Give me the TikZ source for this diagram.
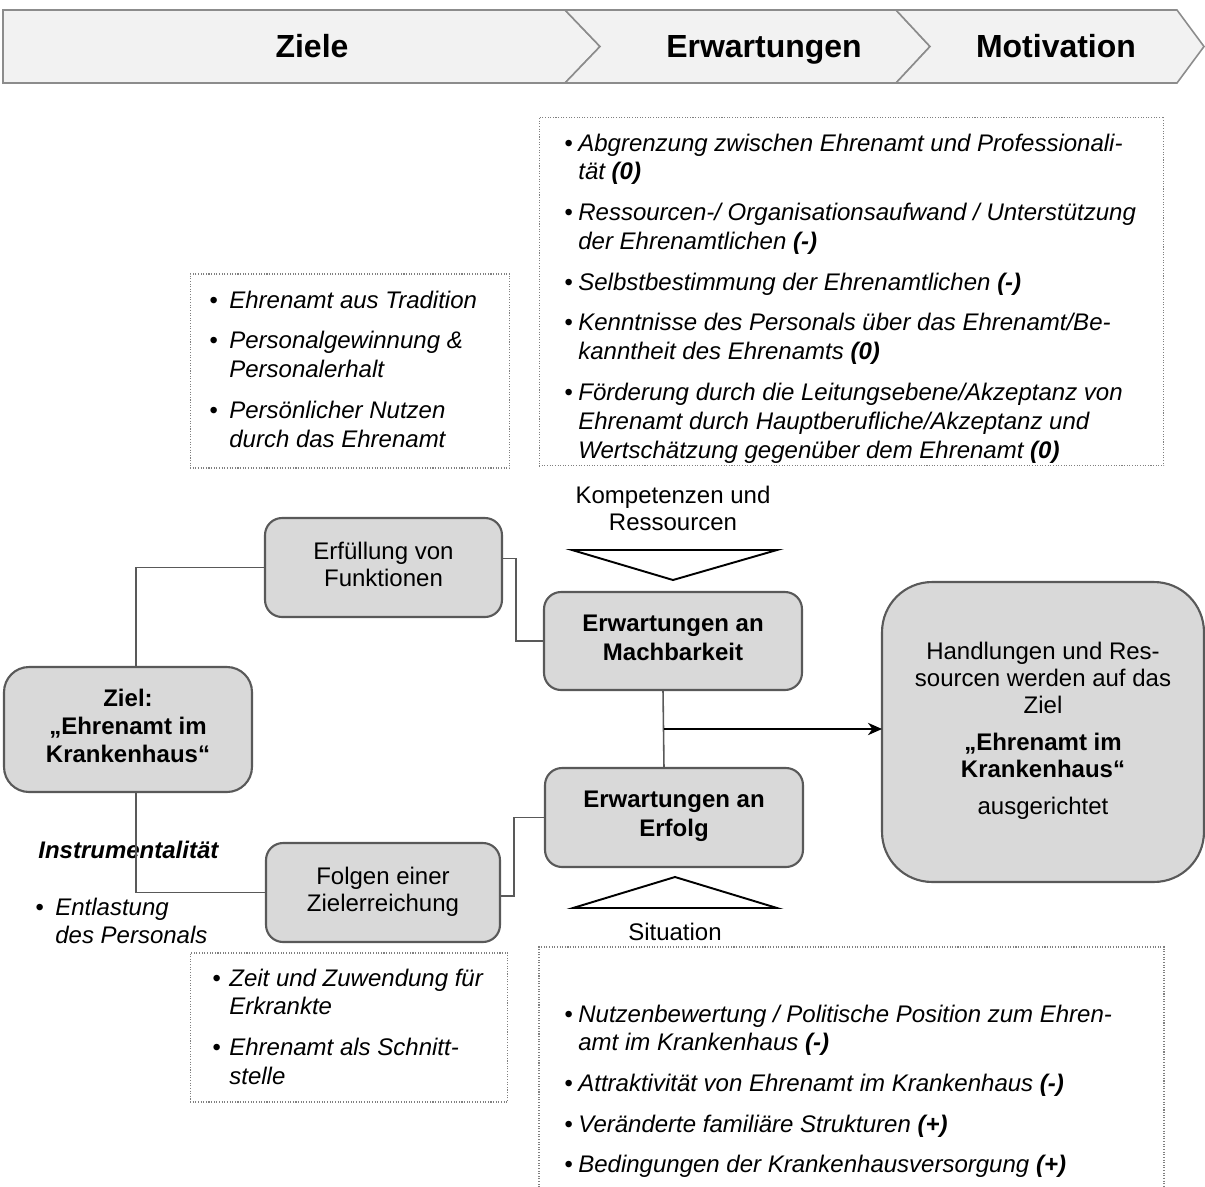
\documentclass[tikz,border=0pt]{standalone}
\usepackage{fontspec}
\setmainfont{Liberation Sans}
\usetikzlibrary{arrows.meta,calc}
\definecolor{boxfill}{HTML}{D9D9D9}
\definecolor{boxline}{HTML}{595959}
\definecolor{banfill}{HTML}{F2F2F2}
\definecolor{banline}{HTML}{8C8C8C}
\definecolor{dotline}{HTML}{808080}
\newcommand\fsBody{\fontsize{13.66}{15.4}\selectfont}
\newcommand\fsList{\fontsize{13.66}{16.5}\selectfont}
\newcommand\fsBan{\fontsize{18.2}{20}\selectfont\bfseries}
\begin{document}
\begin{tikzpicture}[x=0.02cm,y=-0.02cm,
  box/.style={draw=boxline, fill=boxfill, line width=1.2pt, rounded corners=0.34cm,
    inner sep=0pt, outer sep=0pt, align=center, font=\fsBody,
    execute at end node={\rule[-4pt]{0pt}{0pt}}},
  dotbox/.style={draw=dotline, line width=0.6pt, dash pattern=on 0.6pt off 0.9pt, inner sep=0pt},
  conn/.style={draw=boxline, line width=0.9pt},
  arr/.style={draw=black, line width=1.1pt, -{Stealth[length=8pt,width=7pt,inset=2.5pt]}},
  tri/.style={draw=black, fill=white, line width=1.1pt, line join=miter},
  ban/.style={draw=banline, fill=banfill, line width=0.9pt, line join=miter},
  bantext/.style={font=\fsBan, inner sep=0pt, anchor=base},
  list/.style={anchor=base west, inner sep=0pt, font=\fsList\itshape},
  plain/.style={inner sep=0pt, align=center, font=\fsBody}
]
\useasboundingbox (0,0) rectangle (1205,1187);

% banner
\draw[ban] (3,10) -- (565,10) -- (600,46.5) -- (565,83) -- (3,83) -- cycle;
\draw[ban] (565,10) -- (896,10) -- (930,46.5) -- (896,83) -- (565,83) -- (600,46.5) -- cycle;
\draw[ban] (896,10) -- (1177,10) -- (1204,46.5) -- (1177,83) -- (896,83) -- (930,46.5) -- cycle;
\node[bantext] (bziele) at (312,57.5) {Ziele};
\node[bantext] (berw) at (764,57.5) {Erwartungen};
\node[bantext] (bmot) at (1056,57.5) {Motivation};

% dotted boxes
\node[dotbox, minimum width=6.4cm, minimum height=3.88cm] (dTL) at (350,371) {};
\node[dotbox, minimum width=12.5cm, minimum height=6.98cm] (dTR) at (851.5,291.5) {};
\node[dotbox, minimum width=6.36cm, minimum height=2.98cm] (dBL) at (349,1027.5) {};
\draw[draw=dotline, line width=0.6pt, dash pattern=on 0.6pt off 0.9pt] (539,1190) |- (1164,947) -- (1164,1190);

% lists
\node[list] (lTL) at (209,308) {\begin{tabular}[t]{@{}l@{\hspace{6.6pt}}l@{}}
\textbullet & Ehrenamt aus Tradition\\[6.6pt]
\textbullet & Personalgewinnung \&\\
 & Personalerhalt\\[6.6pt]
\textbullet & Persönlicher Nutzen\\
 & durch das Ehrenamt
\end{tabular}};

\node[list] (lTR) at (564,151) {\begin{tabular}[t]{@{}l@{\hspace{3.2pt}}l@{}}
\textbullet & Abgrenzung zwischen Ehrenamt und Professionali-\\
 & tät \textbf{(0)}\\[6.6pt]
\textbullet & Ressourcen-/ Organisationsaufwand / Unterstützung\\
 & der Ehrenamtlichen \textbf{(-)}\\[6.6pt]
\textbullet & Selbstbestimmung der Ehrenamtlichen \textbf{(-)}\\[6.6pt]
\textbullet & Kenntnisse des Personals über das Ehrenamt/Be-\\
 & kanntheit des Ehrenamts \textbf{(0)}\\[6.6pt]
\textbullet & Förderung durch die Leitungsebene/Akzeptanz von\\
 & Ehrenamt durch Hauptberufliche/Akzeptanz und\\
 & Wertschätzung gegenüber dem Ehrenamt \textbf{(0)}
\end{tabular}};

\node[list] (lBL) at (212,986) {\begin{tabular}[t]{@{}l@{\hspace{4.9pt}}l@{}}
\textbullet & Zeit und Zuwendung für\\
 & Erkrankte\\[6.6pt]
\textbullet & Ehrenamt als Schnitt-\\
 & stelle
\end{tabular}};

\node[list] (lBR) at (564,1022) {\begin{tabular}[t]{@{}l@{\hspace{3.2pt}}l@{}}
\textbullet & Nutzenbewertung / Politische Position zum Ehren-\\
 & amt im Krankenhaus \textbf{(-)}\\[6.6pt]
\textbullet & Attraktivität von Ehrenamt im Krankenhaus \textbf{(-)}\\[6.6pt]
\textbullet & Veränderte familiäre Strukturen \textbf{(+)}\\[6.6pt]
\textbullet & Bedingungen der Krankenhausversorgung \textbf{(+)}
\end{tabular}};

\node[list, font=\fsList\itshape\bfseries] (instr) at (38,858) {Instrumentalität};
\node[list] (lEnt) at (35,915) {\begin{tabular}[t]{@{}l@{\hspace{6.6pt}}l@{}}
\textbullet & Entlastung\\
 & des Personals
\end{tabular}};

% main boxes
\node[box, rounded corners=0.5cm, minimum width=4.96cm, minimum height=2.5cm,
  font=\fontsize{13.66}{15.9}\selectfont\bfseries,
  execute at end node={\rule[-2pt]{0pt}{0pt}}] (ziel) at (128,729.5)
  {Ziel:\\„Ehrenamt im\\Krankenhaus“};
\node[box, minimum width=4.74cm, minimum height=1.98cm] (erf) at (383.5,567.5)
  {Erfüllung von\\Funktionen};
\node[box, minimum width=4.68cm, minimum height=1.98cm] (folg) at (383,892.5)
  {Folgen einer\\Zielerreichung};
\node[box, minimum width=5.16cm, minimum height=1.96cm,
  font=\fontsize{13.66}{16.5}\selectfont\bfseries] (mach) at (673,641)
  {Erwartungen an\\Machbarkeit};
\node[box, minimum width=5.16cm, minimum height=1.98cm,
  font=\fontsize{13.66}{16.5}\selectfont\bfseries] (erfolg) at (674,817.5)
  {Erwartungen an\\Erfolg};
\node[box, rounded corners=1cm, minimum width=6.44cm, minimum height=6.0cm] (right) at (1043,732)
  {Handlungen und Res-\\sourcen werden auf das\\Ziel\\[5.7pt]
   \textbf{„Ehrenamt im}\\\textbf{Krankenhaus“}\\[5.7pt]ausgerichtet};

% labels and triangles
\node[plain] (komp) at (673,508) {Kompetenzen und\\Ressourcen};
\node[plain] (sit) at (675,932) {Situation};
\draw[tri] (572,550) -- (777,550) -- (673,580) -- cycle;
\draw[tri] (573,908) -- (777,908) -- (675,877) -- cycle;

% connectors
\draw[conn] ([xshift=0.16cm]ziel.north) |- (erf.west);
\draw[conn] ([xshift=0.16cm]ziel.south) |- (folg.west);
\draw[conn] ([yshift=0.18cm]erf.east) -- ++(14,0) |- (mach.west);
\draw[conn] ([yshift=-0.07cm]folg.east) -- ++(14,0) |- (erfolg.west);
\draw[conn] ([xshift=-0.2cm]mach.south) -- ([xshift=-0.2cm]erfolg.north);
\coordinate (junc) at ($([xshift=-0.2cm]mach.south)!0.5!([xshift=-0.2cm]erfolg.north)$);
\draw[arr] (junc) -- (junc -| right.west);
\end{tikzpicture}
\end{document}
